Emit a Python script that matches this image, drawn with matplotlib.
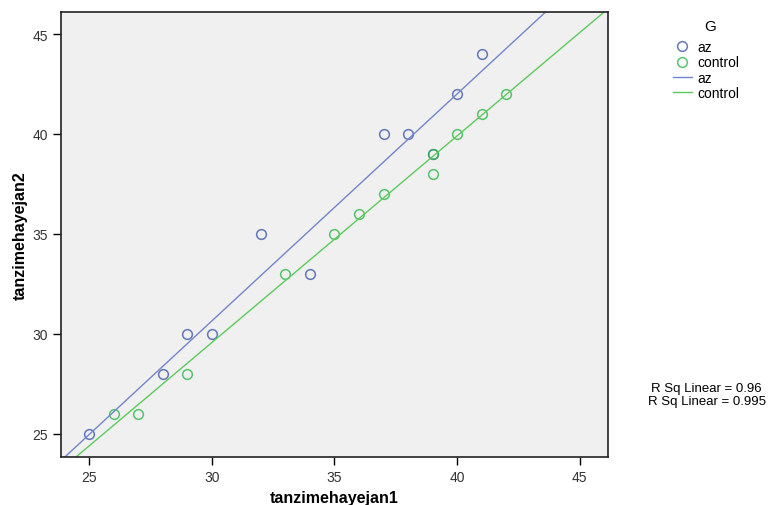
import matplotlib.pyplot as plt
import numpy as np

plt.rcParams['font.family'] = ['Liberation Sans', 'DejaVu Sans']

# data; az (39,39) sits under the control circle
az_x = [25, 28, 29, 30, 32, 34, 37, 38, 39, 40, 41]
az_y = [25, 28, 30, 30, 35, 33, 40, 40, 39, 42, 44]
ctrl_x = [26, 27, 29, 33, 35, 36, 37, 39, 39, 40, 41, 42]
ctrl_y = [26, 26, 28, 33, 35, 36, 37, 39, 38, 40, 41, 42]
groups = ["az", "control"]
rsq = ["0.96", "0.995"]
ticks = [25, 30, 35, 40, 45]

c_az = "#3E58AC"
c_ctrl = "#2EB848"
c_az_line = "#7385CC"
c_ctrl_line = "#5CCB5C"

fig = plt.figure(figsize=(7.74, 5.06), dpi=100)
ax = fig.add_axes([0.0788, 0.0949, 0.7067, 0.8794])
ax.set_facecolor("#F0F0F0")

xlim = (23.85, 46.15)
ylim = (23.85, 46.1)

h1, = ax.plot(az_x, az_y, "o", mfc="none", mec=c_az, mew=1.1, ms=7, alpha=0.8, ls="none")
h2, = ax.plot(ctrl_x, ctrl_y, "o", mfc="none", mec=c_ctrl, mew=1.1, ms=7, alpha=0.8, ls="none")

xx = np.array(xlim)
p1 = np.polyfit(az_x, az_y, 1)
p2 = np.polyfit(ctrl_x, ctrl_y, 1)
l1, = ax.plot(xx, np.polyval(p1, xx), color=c_az_line, lw=1)
l2, = ax.plot(xx, np.polyval(p2, xx), color=c_ctrl_line, lw=1)

ax.set_xlim(xlim)
ax.set_ylim(ylim)
ax.set_xticks(ticks)
ax.set_yticks(ticks)
ax.tick_params(direction="out", length=6, width=1, labelsize=10, labelcolor="#333333")
for s in ax.spines.values():
    s.set_linewidth(1.2)
    s.set_color("#222222")

ax.set_xlabel("tanzimehayejan1", fontsize=11.5, fontweight="bold")
ax.set_ylabel("tanzimehayejan2", fontsize=11.5, fontweight="bold")
ax.xaxis.set_label_coords(0.5, -0.074)
ax.yaxis.set_label_coords(-0.06, 0.5)

fig.text(0.917, 0.947, "G", ha="center", va="center", fontsize=11)
fig.legend([h1, h2, l1, l2], groups + groups,
           loc="upper left", bbox_to_anchor=(0.86, 0.932), frameon=False,
           fontsize=10, handlelength=1.4, handletextpad=0.35,
           labelspacing=0.08, borderpad=0)

fig.text(0.913, 0.226, "R Sq Linear = " + rsq[0], ha="center", fontsize=9.5)
fig.text(0.913, 0.200, "R Sq Linear = " + rsq[1], ha="center", fontsize=9.5)

fig.savefig("out.png", dpi=100)
